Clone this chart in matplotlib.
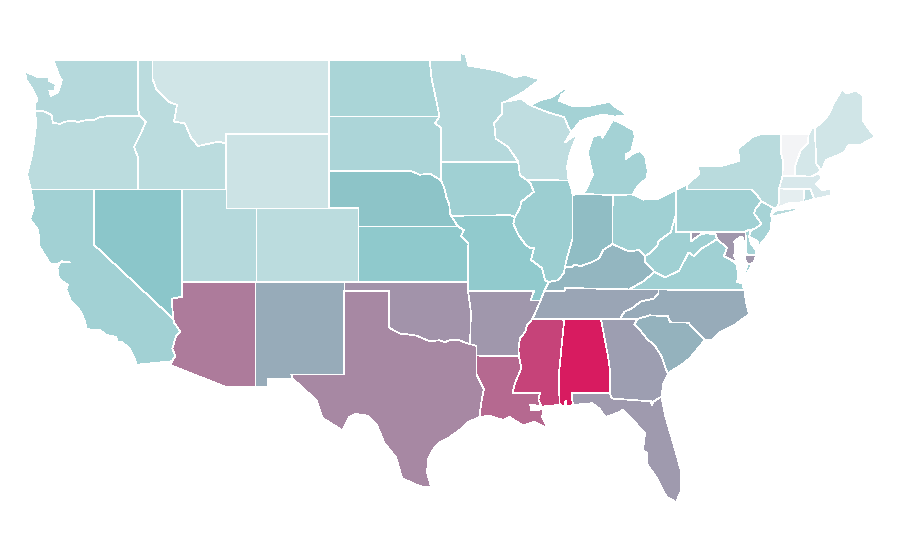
import matplotlib
matplotlib.use("Agg")
import matplotlib.pyplot as plt
from matplotlib.collections import PolyCollection
from matplotlib.colors import LinearSegmentedColormap

# value per state
states = ["WA", "OR", "CA", "NV", "ID", "MT", "WY", "UT", "CO", "AZ", "NM", "ND", "SD", "NE", "KS",
          "OK", "TX", "MN", "IA", "MO", "AR", "LA", "WI", "IL", "MI", "IN", "KY", "TN", "MS", "AL",
          "OH", "WV", "VA", "NC", "SC", "GA", "FL", "PA", "NY", "MD", "DE", "NJ", "CT", "RI", "MA",
          "VT", "NH", "ME"]
values = [30, 27, 39, 50, 27, 17, 19, 30, 27, 72, 58, 35, 34, 51, 48,
          65, 68, 30, 40, 47, 64, 77, 25, 42, 38, 53, 55, 60, 88, 100,
          40, 40, 40, 58, 56, 62, 63, 39, 28, 64, 37, 37, 7, 25, 13,
          0, 15, 17]

# shared borders, lon/lat
snake = [(-116.92, 45.97), (-116.5, 45.66), (-116.85, 45.0), (-117.3, 44.3), (-117.05, 43.77), (-117.03, 42)]
columbia = [(-124.0, 46.25), (-123.5, 46.25), (-123.2, 46.15), (-122.9, 46.03), (-122.8, 45.6), (-122.3, 45.55),
            (-122.0, 45.66), (-121.5, 45.72), (-121.1, 45.65), (-120.6, 45.74), (-120.0, 45.76), (-119.6, 45.92),
            (-119.0, 45.97), (-116.92, 45.97)]
bitterroot = [(-116.05, 49), (-116.05, 48.0), (-115.76, 47.38), (-114.97, 46.75), (-114.38, 46.57), (-114.58, 45.67),
              (-113.84, 45.57), (-113.45, 44.83), (-112.96, 44.35), (-111.6, 44.58), (-111.05, 44.5)]
lower_colorado = [(-114.63, 35.0), (-114.57, 34.8), (-114.14, 34.3), (-114.43, 34.1), (-114.7, 33.4), (-114.5, 33.0),
                  (-114.72, 32.72)]
red_river = [(-100, 34.56), (-99.7, 34.4), (-99.2, 34.2), (-98.9, 34.2), (-98.6, 34.15), (-98.1, 34.1), (-97.7, 33.95),
             (-97.2, 33.8), (-96.6, 33.85), (-96.2, 33.75), (-95.8, 33.87), (-95.3, 33.88), (-94.9, 33.75), (-94.48, 33.64)]
upper_missouri = [(-96.45, 42.49), (-96.2, 42.0), (-96.1, 41.6), (-95.9, 41.2), (-95.85, 40.7), (-95.77, 40.58)]
kc_missouri = [(-95.77, 40.58), (-95.31, 40), (-94.9, 39.8), (-95.1, 39.5), (-94.6, 39.1)]
ne_sd = [(-96.45, 42.49), (-97.2, 42.85), (-97.9, 42.8), (-98.5, 43), (-104.05, 43)]
mn_dak = [(-97.23, 49), (-97.1, 48), (-96.8, 46.9), (-96.56, 45.94), (-96.85, 45.6), (-96.45, 45.3), (-96.45, 43.5)]
st_croix = [(-92.05, 46.75), (-92.3, 46.7), (-92.3, 46.1), (-92.85, 45.6), (-92.75, 44.75), (-91.9, 44.3), (-91.22, 43.5)]
ia_il = [(-91.22, 43.5), (-91.1, 42.78), (-90.64, 42.51), (-90.4, 42.35), (-90.15, 41.88), (-91.0, 41.34), (-91.1, 41),
         (-91.45, 40.5)]
mo_il = [(-91.45, 40.5), (-91.55, 40.15), (-91.2, 39.54), (-90.7, 39), (-90.4, 38.83), (-90.15, 38.83), (-90.35, 38.2),
         (-89.6, 37.75), (-89.4, 37.1), (-89.15, 37)]
ar_ms = [(-90.25, 35), (-90.6, 34.7), (-90.75, 34.3), (-91.1, 33.95), (-91.2, 33.4), (-91.17, 33)]
la_ms = [(-91.17, 33), (-91.0, 32.35), (-91.45, 31.5), (-91.6, 31), (-89.73, 31), (-89.85, 30.65), (-89.6, 30.2)]
ohio_ky_il = [(-89.15, 37), (-88.5, 37.1), (-88.1, 37.5), (-88.05, 37.8)]
ohio_ky_in = [(-88.05, 37.8), (-87.6, 37.8), (-87.35, 37.95), (-87, 37.85), (-86.65, 37.95), (-86.3, 38.05), (-85.9, 38.2),
              (-85.7, 38.3), (-85.45, 38.73), (-84.82, 39.05)]
ohio_ky_oh = [(-84.82, 39.05), (-84.25, 38.85), (-83.7, 38.65), (-83, 38.73), (-82.6, 38.4)]
ohio_oh_wv = [(-82.6, 38.4), (-82.2, 38.6), (-81.75, 39), (-81.7, 39.2), (-80.85, 39.7), (-80.52, 40.64)]
ky_wv = [(-82.6, 38.4), (-82.6, 38.1), (-81.97, 37.54)]
ky_va = [(-81.97, 37.54), (-82.7, 37.05), (-83.68, 36.6)]
va_wv = [(-81.97, 37.54), (-81.25, 37.25), (-80.3, 37.6), (-79.65, 38.6), (-79.3, 38.4), (-78.87, 38.76), (-78.35, 39.0),
         (-77.72, 39.32)]
md_wv = [(-77.72, 39.32), (-77.83, 39.6), (-78.4, 39.62), (-78.8, 39.6), (-79.48, 39.2)]
nc_tn = [(-81.68, 36.59), (-81.7, 36.4), (-82, 36.1), (-82.9, 35.95), (-83.5, 35.57), (-84, 35.4), (-84.32, 35)]
nc_sc = [(-83.11, 35), (-82.3, 35.2), (-81.05, 35.15), (-80.9, 34.82), (-79.67, 34.8), (-78.55, 33.86)]
ga_sc = [(-83.11, 35), (-83.35, 34.7), (-83, 34.45), (-82.55, 34), (-81.9, 33.5), (-81.5, 33), (-81.1, 32.1), (-81.0, 32.1)]
al_ga = [(-85.6, 35), (-85.1, 32.9), (-85, 32.3), (-85, 31)]
ny_nj_pa = [(-73.9, 41), (-74.7, 41.36)]
nj_pa = [(-74.7, 41.36), (-75.1, 40.95), (-75.2, 40.7), (-74.7, 40.15), (-75.1, 39.9), (-75.42, 39.8)]
md_west_shore = [(-75.85, 38.3), (-75.8, 38.6), (-75.85, 39), (-75.95, 39.4), (-76.1, 39.45), (-76.55, 39.2), (-76.5, 38.9),
                 (-76.55, 38.4), (-76.35, 38.05), (-76.9, 38.25), (-77.25, 38.4), (-77.05, 38.85), (-77.72, 39.32)]
vt_nh = [(-71.5, 45), (-71.55, 44.5), (-72.05, 44.1), (-72.4, 43.3), (-72.46, 42.73)]
ny_vt = [(-73.35, 45), (-73.4, 44), (-73.25, 43.6), (-73.27, 42.75)]

outlines = {
    "WA": [[(-117.03, 49), (-122.76, 49), (-122.46, 48.3), (-122.2, 47.9), (-122.45, 47.27), (-122.95, 47.05),
            (-123.05, 47.35), (-122.7, 47.35), (-122.6, 47.7), (-123.05, 47.85), (-123.1, 48.05), (-123.9, 48.1),
            (-124.7, 48.38), (-124.6, 47.9), (-124.15, 47.38), (-123.85, 46.84), (-124.0, 46.7)] + columbia +
           [(-117.04, 46.42)]],
    "OR": [columbia + snake[1:] + [(-124.3, 42), (-124.55, 42.8), (-124.25, 43.77), (-124.1, 44.5), (-123.95, 45.5)]],
    "CA": [[(-124.3, 42), (-120, 42), (-120, 39)] + lower_colorado +
           [(-117.12, 32.53), (-117.25, 32.85), (-117.6, 33.4), (-118.1, 33.75), (-118.4, 33.75), (-118.5, 34.03),
            (-119.2, 34.15), (-119.6, 34.4), (-120.5, 34.45), (-120.65, 34.9), (-120.9, 35.4), (-121.6, 36.0),
            (-121.9, 36.6), (-121.8, 36.85), (-122.0, 36.95), (-122.4, 37.2), (-122.5, 37.75), (-122.45, 37.85),
            (-122.3, 38.05), (-121.6, 38.05), (-122.2, 38.12), (-122.5, 37.95), (-123.0, 38.0), (-123.7, 38.9),
            (-123.8, 39.8), (-124.35, 40.4), (-124.1, 41.0)]],
    "NV": [[(-120, 42), (-114.04, 42), (-114.04, 36.2), (-114.75, 36.1), (-114.63, 35.0), (-120, 39)]],
    "ID": [[(-117.03, 49)] + bitterroot + [(-111.05, 42)] + snake[::-1] + [(-117.04, 46.42)]],
    "MT": [bitterroot + [(-111.05, 45), (-104.05, 45), (-104.05, 49)]],
    "WY": [[(-111.05, 45), (-104.05, 45), (-104.05, 41), (-111.05, 41)]],
    "UT": [[(-114.04, 42), (-111.05, 42), (-111.05, 41), (-109.05, 41), (-109.05, 37), (-114.04, 37)]],
    "CO": [[(-109.05, 41), (-102.05, 41), (-102.05, 37), (-109.05, 37)]],
    "AZ": [[(-114.04, 37), (-109.05, 37), (-109.05, 31.33), (-111.07, 31.33), (-114.81, 32.5)] + lower_colorado[::-1] +
           [(-114.75, 36.1), (-114.04, 36.2)]],
    "NM": [[(-109.05, 37), (-103, 37), (-103.04, 32), (-106.62, 32), (-106.53, 31.78), (-108.2, 31.78), (-108.2, 31.33),
            (-109.05, 31.33)]],
    "ND": [[(-104.05, 49), (-97.23, 49), (-97.1, 48), (-96.8, 46.9), (-96.56, 45.94), (-104.05, 45.94)]],
    "SD": [[(-104.05, 45.94)] + mn_dak[3:] + ne_sd],
    "NE": [ne_sd[::-1] + upper_missouri + [(-95.31, 40), (-102.05, 40), (-102.05, 41), (-104.05, 41)]],
    "KS": [[(-102.05, 40)] + kc_missouri[1:] + [(-94.62, 37), (-102.05, 37)]],
    "OK": [[(-103, 37), (-94.62, 37), (-94.62, 36.5), (-94.43, 35.4)] + red_river[::-1] + [(-100, 36.5), (-103, 36.5)]],
    "TX": [[(-103.04, 36.5), (-100, 36.5)] + red_river +
           [(-94.04, 33.55), (-94.04, 32), (-93.55, 31.2), (-93.7, 30.6), (-93.85, 29.7), (-94.7, 29.4), (-95.2, 29.0),
            (-95.9, 28.6), (-96.6, 28.3), (-97.05, 27.9), (-97.35, 27.4), (-97.4, 26.7), (-97.15, 25.96), (-97.6, 25.9),
            (-98.3, 26.1), (-99.1, 26.4), (-99.5, 27.5), (-100.3, 28.3), (-100.8, 29.25), (-101.4, 29.77), (-102.3, 29.87),
            (-102.7, 29.7), (-103.15, 28.98), (-104.5, 29.65), (-104.9, 30.6), (-106, 31.4), (-106.53, 31.78),
            (-106.62, 32), (-103.04, 32)]],
    "MN": [mn_dak[:1] + [(-95.15, 49), (-95.15, 49.38), (-94.8, 49.3), (-94.6, 48.7), (-93.5, 48.55), (-92.5, 48.4),
                         (-91.4, 48.07), (-90.8, 48.2), (-89.74, 47.95), (-90.8, 47.3)] + st_croix + mn_dak[:0:-1]],
    "IA": [[(-96.45, 43.5)] + ia_il + [(-91.73, 40.61)] + upper_missouri[::-1]],
    "MO": [[(-95.77, 40.58), (-91.73, 40.61)] + mo_il + [(-89.2, 36.5), (-89.7, 36), (-90.37, 36), (-90.15, 36.5),
                                                          (-94.62, 36.5), (-94.62, 37)] + kc_missouri[:0:-1]],
    "AR": [[(-94.62, 36.5), (-90.15, 36.5), (-90.37, 36), (-89.7, 36)] + ar_ms +
           [(-94.04, 33.02), (-94.04, 33.55), (-94.48, 33.64), (-94.43, 35.4)]],
    "LA": [[(-94.04, 33.02)] + la_ms + [(-89.65, 30.28), (-90.4, 30.38), (-90.35, 30.05), (-89.5, 30.12), (-89.6, 29.7),
                                         (-89.2, 29.1), (-89.8, 29.3), (-90.1, 29.45), (-90.9, 29.25), (-91.4, 29.5),
                                         (-91.8, 29.7), (-92.25, 29.55), (-92.9, 29.7), (-93.2, 29.77), (-93.85, 29.7),
                                         (-93.7, 30.6), (-93.55, 31.2), (-94.04, 32)]],
    "WI": [[(-92.05, 46.75), (-91, 46.9), (-90.4, 46.55), (-89.1, 46.14), (-88.1, 45.92), (-87.8, 45.35), (-87.6, 45.1),
            (-88.04, 44.55), (-87.4, 44.9), (-87.05, 45.25), (-87.5, 44.4), (-87.75, 43.8), (-87.9, 43.2), (-87.8, 42.49)] +
           ia_il[2::-1] + st_croix[::-1][1:]],
    "IL": [[(-90.64, 42.51), (-87.8, 42.49), (-87.55, 41.9), (-87.53, 41.7), (-87.53, 39.35), (-87.9, 38.3)] +
           ohio_ky_il[::-1] + mo_il[::-1] + ia_il[:2:-1]],
    "MI": [[(-90.4, 46.55), (-89.8, 46.8), (-88.9, 47.0), (-88.2, 47.4), (-87.8, 47.45), (-88.3, 47.1), (-88.45, 46.8),
            (-87.5, 46.5), (-86.5, 46.5), (-85.4, 46.68), (-85, 46.75), (-84.6, 46.45), (-84.1, 46.2), (-83.9, 45.97),
            (-84.7, 45.95), (-85.5, 46.05), (-86.5, 45.85), (-87, 45.7), (-87.6, 45.1), (-87.8, 45.35), (-88.1, 45.92),
            (-89.1, 46.14)],
           [(-84.8, 45.75), (-84.4, 45.65), (-83.4, 45.2), (-83.3, 44.85), (-83.55, 44.05), (-83.9, 43.9), (-83.9, 43.65),
            (-83.4, 43.95), (-82.95, 44.07), (-82.6, 43.8), (-82.42, 43), (-82.5, 42.6), (-83.1, 42.2), (-83.45, 41.73),
            (-84.8, 41.7), (-86.82, 41.76), (-86.6, 42), (-86.15, 42.8), (-86.5, 44), (-86.15, 44.84), (-85.6, 45),
            (-85.5, 44.8), (-85.05, 45.4)]],
    "IN": [[(-87.53, 41.7), (-87.2, 41.75), (-86.82, 41.76), (-84.8, 41.7)] + ohio_ky_in[::-1] + [(-87.9, 38.3), (-87.53, 39.35)]],
    "KY": [[(-89.45, 36.5)] + ohio_ky_il + ohio_ky_in[1:] + ohio_ky_oh[1:] + ky_wv[1:] + ky_va[1:] + [(-88.05, 36.68), (-88.07, 36.5)]],
    "TN": [[(-90.25, 35), (-89.7, 36), (-89.45, 36.5), (-88.07, 36.5), (-88.05, 36.68), (-83.68, 36.6)] + nc_tn +
           [(-85.6, 35), (-88.2, 35)]],
    "MS": [[(-90.25, 35), (-88.2, 35), (-88.1, 34.9), (-88.47, 31.9), (-88.4, 30.35), (-89.35, 30.3)] + la_ms[::-1] + ar_ms[-2::-1]],
    "AL": [[(-88.2, 35)] + al_ga + [(-87.6, 31), (-87.5, 30.35), (-87.9, 30.25), (-88.0, 30.6), (-88.1, 30.3), (-88.4, 30.35),
                                     (-88.47, 31.9), (-88.1, 34.9)]],
    "OH": [[(-84.8, 41.7), (-83.45, 41.73), (-82.7, 41.45), (-81.7, 41.5), (-80.52, 41.97)] + ohio_oh_wv[::-1] +
           ohio_ky_oh[::-1]],
    "WV": [[(-80.52, 40.64), (-80.52, 39.72), (-79.48, 39.72)] + md_wv[::-1] + va_wv[::-1] + ky_wv[::-1] + ohio_oh_wv[1:-1]],
    "VA": [[(-83.68, 36.6), (-81.68, 36.59), (-75.87, 36.55), (-76, 36.93), (-76.35, 37), (-76.3, 37.5), (-76.4, 37.95),
            (-77.05, 38.4), (-77.05, 38.85), (-77.72, 39.32)] + va_wv[-2::-1] + ky_va[1:-1],
           [(-75.95, 37.15), (-75.6, 37.6), (-75.25, 38.03), (-75.65, 37.95)]],
    "NC": [nc_tn[::-1] + [(-75.87, 36.55), (-75.75, 35.9), (-75.55, 35.25), (-76, 35), (-76.5, 34.7), (-77.5, 34.3),
                          (-78, 33.9)] + nc_sc[::-1]],
    "SC": [nc_sc + [(-79.55, 32.9), (-80, 32.6), (-80.6, 32.3)] + ga_sc[::-1][:-1]],
    "GA": [[(-85.6, 35), (-83.11, 35)] + ga_sc[1:] +
           [(-81.35, 31.55), (-81.5, 30.8), (-82.05, 30.53), (-82.15, 30.35), (-82.2, 30.55), (-84.86, 30.7), (-85, 31),
            (-85, 32.3), (-85.1, 32.9)]],
    "FL": [[(-87.6, 31), (-85, 31), (-84.86, 30.7), (-82.2, 30.55), (-82.15, 30.35), (-82.05, 30.53), (-81.5, 30.8),
            (-81.25, 29.8), (-80.7, 28.3), (-80.15, 26.75), (-80.15, 25.75), (-80.5, 25.1), (-81.15, 25.4), (-81.85, 26.45),
            (-82.5, 27.2), (-82.45, 27.75), (-82.75, 27.9), (-82.6, 28.85), (-83.4, 29.5), (-84.1, 30.1), (-84.4, 29.95),
            (-85.3, 29.7), (-85.7, 30.15), (-86.2, 30.45), (-87.5, 30.35)]],
    "PA": [[(-80.52, 41.97), (-79.76, 42.27), (-79.76, 42), (-75.35, 42), (-75.05, 41.75)] + nj_pa +
           [(-75.55, 39.83), (-75.79, 39.72), (-80.52, 39.72)]],
    "NY": [[(-79.76, 42.27), (-78.9, 42.85), (-79.05, 43.27), (-77.5, 43.25), (-76.2, 43.55), (-76.3, 44.2), (-75.3, 44.85),
            (-74.7, 45)] + ny_vt + [(-73.5, 42.05), (-73.5, 41.3), (-73.65, 41)] + ny_nj_pa + [(-75.05, 41.75), (-75.35, 42),
                                                                                                (-79.76, 42)],
           [(-74.05, 40.6), (-73.75, 40.85), (-72.6, 40.98), (-72, 41.1), (-72.5, 40.82), (-73.9, 40.55)]],
    "MD": [[(-79.48, 39.72), (-75.79, 39.72), (-75.7, 38.46), (-75.05, 38.45), (-75.25, 38.03), (-75.65, 37.95)] +
           md_west_shore + md_wv[1:]],
    "DE": [[(-75.79, 39.72), (-75.55, 39.83), (-75.42, 39.8), (-75.55, 39.45), (-75.4, 39.05), (-75.1, 38.75), (-75.05, 38.45),
            (-75.7, 38.46)]],
    "NJ": [nj_pa[::-1] + [(-73.9, 41), (-74.05, 40.65), (-74, 40.4), (-74.1, 39.75), (-74.4, 39.4), (-74.9, 38.93),
                           (-74.95, 39.2), (-75.55, 39.45)]],
    "CT": [[(-73.5, 42.05), (-71.8, 42.02), (-71.85, 41.32), (-72.9, 41.25), (-73.65, 41), (-73.5, 41.3)]],
    "RI": [[(-71.8, 42.02), (-71.38, 42.02), (-71.12, 41.5), (-71.85, 41.32)]],
    "MA": [[(-73.5, 42.05), (-73.27, 42.75), (-72.46, 42.73), (-71.3, 42.7), (-70.85, 42.88), (-70.6, 42.65), (-71, 42.3),
            (-70.6, 41.95), (-70, 42.05), (-69.95, 41.7), (-70.65, 41.55), (-71.12, 41.5), (-71.38, 42.02), (-71.8, 42.02)]],
    "VT": [[(-73.35, 45)] + vt_nh[:] + ny_vt[:0:-1]],
    "NH": [vt_nh[:1] + [(-71.3, 45.3), (-71.08, 45.3), (-70.98, 43.4), (-70.7, 43.07), (-70.85, 42.88), (-71.3, 42.7)] +
           vt_nh[:0:-1]],
    "ME": [[(-71.08, 45.3), (-70.4, 45.8), (-70.1, 46.1), (-69.8, 46.66), (-69.23, 47.4), (-68.9, 47.2), (-68.3, 47.35),
            (-67.8, 47.07), (-67.8, 45.7), (-67.45, 45.3), (-67, 44.85), (-68, 44.4), (-68.8, 44.4), (-69.1, 44),
            (-70.3, 43.6), (-70.6, 43.1), (-70.7, 43.07), (-70.98, 43.4)]],
}

cmap = LinearSegmentedColormap.from_list("rates", ["#f3f4f6", "#8bc7ca", "#d81b60"])

polys, poly_values = [], []
for name, value in zip(states, values):
    for ring in outlines[name]:
        polys.append(ring)
        poly_values.append(value)

fig = plt.figure(figsize=(9, 5.6), dpi=100)
ax = fig.add_axes([0, 0, 1, 1])
shapes = PolyCollection(polys, array=poly_values, cmap=cmap, clim=(0, 100), edgecolors="white", linewidths=0.5,
                        antialiased=False)
ax.add_collection(shapes)
ax.set_xlim(-126.397, -65.297)
ax.set_ylim(21.973, 52.243)
ax.axis("off")

fig.savefig("out.png", dpi=100)
